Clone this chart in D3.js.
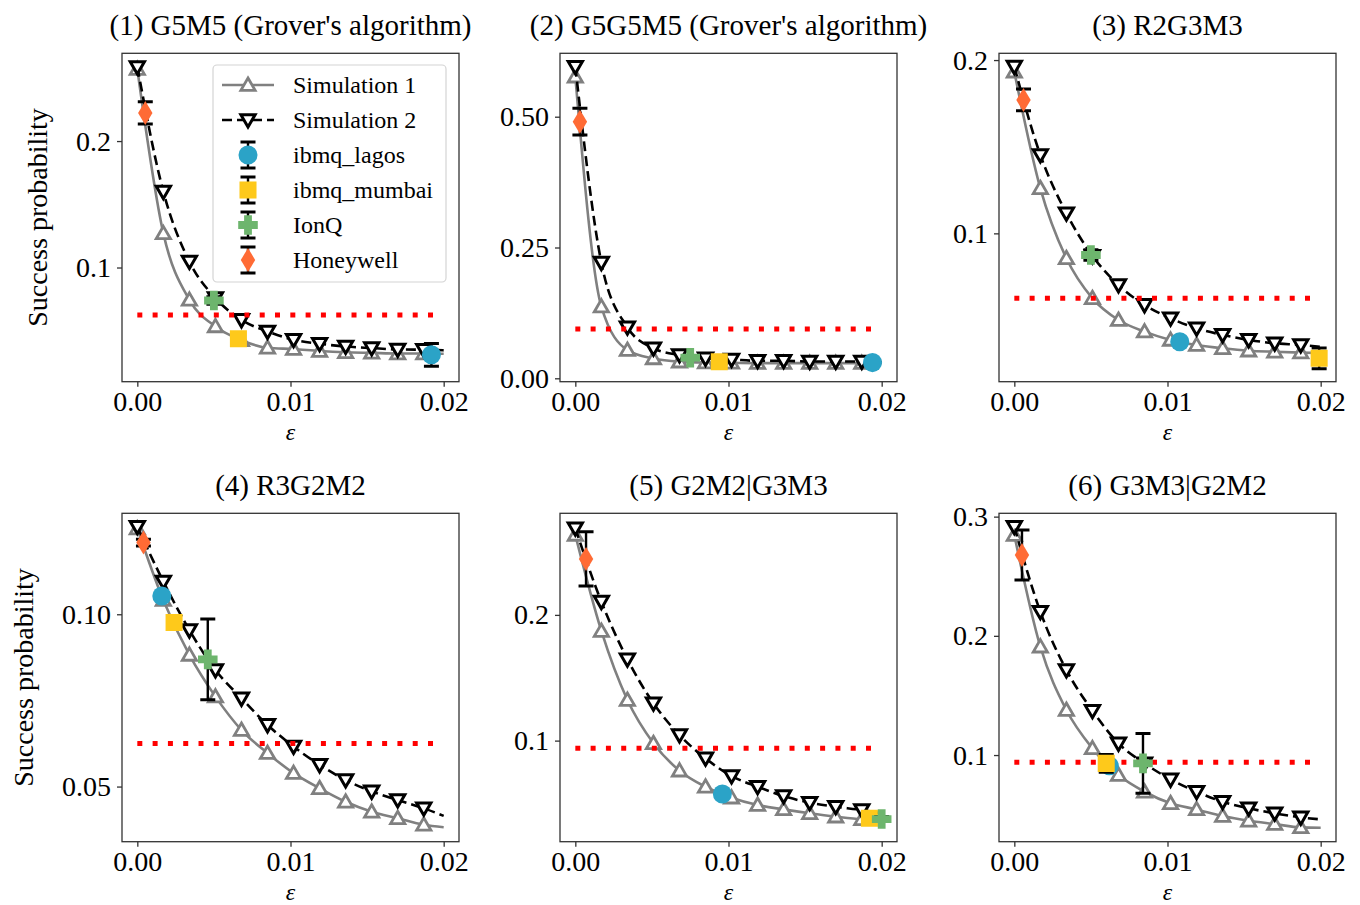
<!DOCTYPE html>
<html><head><meta charset="utf-8">
<script src="https://cdn.jsdelivr.net/npm/d3@7"></script>
<style>
body{margin:0;background:#fff}
svg{display:block}
text{font-family:"Liberation Serif","Times New Roman",serif;fill:#000}
</style>
</head><body>
<svg id="chart" width="1360" height="905"></svg>
<script>
// ---------------- DATA ----------------
const titles = [
  "(1) G5M5 (Grover's algorithm)",
  "(2) G5G5M5 (Grover's algorithm)",
  "(3) R2G3M3",
  "(4) R3G2M2",
  "(5) G2M2|G3M3",
  "(6) G3M3|G2M2"
];
const xDomain = [-0.001, 0.021];
const xTicks = [0, 0.01, 0.02];
const simX = [0, 0.0017, 0.0034, 0.0051, 0.0068, 0.0085, 0.0102, 0.0119, 0.0136, 0.0153, 0.0170, 0.0187];
const lineEndX = 0.02;

const sim1 = [
  [0.257, 0.127, 0.0744, 0.0534, 0.0425, 0.0365, 0.0355, 0.0340, 0.0330, 0.0325, 0.0320, 0.0320],
  [0.5765, 0.137, 0.054, 0.038, 0.0318, 0.0300, 0.0295, 0.0290, 0.0290, 0.0290, 0.0290, 0.0290],
  [0.1933, 0.126, 0.0856, 0.0625, 0.0500, 0.0433, 0.0385, 0.0356, 0.0337, 0.0323, 0.0317, 0.0312],
  [0.1249, 0.1041, 0.0882, 0.0761, 0.0664, 0.0597, 0.0539, 0.0495, 0.0456, 0.0427, 0.0408, 0.0389],
  [0.2636, 0.1872, 0.1323, 0.0979, 0.0761, 0.0633, 0.0546, 0.0488, 0.0453, 0.0422, 0.0395, 0.0374],
  [0.2846, 0.1909, 0.1378, 0.1056, 0.0832, 0.0692, 0.0595, 0.0544, 0.0488, 0.0449, 0.0421, 0.0393]
];
const sim1End = [0.0318, 0.0288, 0.0310, 0.0382, 0.0370, 0.0390];

const sim2 = [
  [0.2586, 0.160, 0.1047, 0.0758, 0.0586, 0.0494, 0.0429, 0.0397, 0.0375, 0.0363, 0.0352, 0.0350],
  [0.5956, 0.221, 0.0975, 0.0573, 0.0445, 0.0380, 0.0360, 0.0335, 0.0335, 0.0320, 0.0320, 0.0320],
  [0.1962, 0.1452, 0.1116, 0.0870, 0.0702, 0.0587, 0.0510, 0.0452, 0.0414, 0.0385, 0.0366, 0.0356],
  [0.1254, 0.1095, 0.0954, 0.0838, 0.0756, 0.0679, 0.0616, 0.0563, 0.0519, 0.0486, 0.0461, 0.0437],
  [0.2689, 0.2105, 0.1647, 0.1297, 0.1044, 0.0859, 0.0718, 0.0633, 0.0559, 0.0506, 0.0474, 0.0448],
  [0.2915, 0.2202, 0.1713, 0.1372, 0.1098, 0.0930, 0.0796, 0.0692, 0.0608, 0.0553, 0.0511, 0.0477]
];
const sim2End = [0.0345, 0.0310, 0.0345, 0.0415, 0.0420, 0.0460];

const redLine = [0.0625, 0.094, 0.0625, 0.0625, 0.094, 0.094];
const redX = [0, 0.0195];

const devices = ["ibmq_lagos", "ibmq_mumbai", "IonQ", "Honeywell"];
const deviceColors = ["#2ba3c7", "#fec91b", "#6db56d", "#ff6b35"];
// per panel: [lagos, mumbai, IonQ, Honeywell]
const expX = [
  [0.0192, 0.0066, 0.0050, 0.00052],
  [0.0194, 0.0094, 0.0075, 0.0003],
  [0.0108, 0.0199, 0.0050, 0.0006],
  [0.0016, 0.0024, 0.0046, 0.0004],
  [0.0096, 0.0192, 0.0200, 0.0007],
  [0.0062, 0.0060, 0.0084, 0.0005]
];
const expY = [
  [0.0310, 0.0436, 0.0739, 0.2222],
  [0.0300, 0.0318, 0.0394, 0.4905],
  [0.0375, 0.0279, 0.0875, 0.1770],
  [0.1053, 0.0976, 0.0869, 0.1208],
  [0.0575, 0.0382, 0.0376, 0.2445],
  [0.0910, 0.0930, 0.0930, 0.2678]
];
const expErr = [
  [0.0090, 0.0040, 0.0030, 0.0088],
  [0.0030, 0.0030, 0.0030, 0.0255],
  [0.0020, 0.0060, 0.0030, 0.0063],
  [0.0010, 0.0010, 0.0117, 0.0010],
  [0.0020, 0.0020, 0.0020, 0.0216],
  [0.0020, 0.0075, 0.0250, 0.0210]
];

const yDomains = [
  [0.0097, 0.2694],
  [-0.0065, 0.6212],
  [0.0144, 0.2039],
  [0.0340, 0.1293],
  [0.0196, 0.2808],
  [0.0273, 0.3028]
];
const yTicks = [
  [0.1, 0.2],
  [0, 0.25, 0.5],
  [0.1, 0.2],
  [0.05, 0.10],
  [0.1, 0.2],
  [0.1, 0.2, 0.3]
];
const yFormats = [".1f", ".2f", ".1f", ".2f", ".1f", ".1f"];
const legendLabels = ["Simulation 1", "Simulation 2", "ibmq_lagos", "ibmq_mumbai", "IonQ", "Honeywell"];

// ---------------- LAYOUT ----------------
const colLeft = [122, 560, 999];
const rowTop = [53.3, 513.3];
const PW = 337, PH = 328.4;
const ylabelX = [47, 33];

const svg = d3.select("#chart");
const GRAY = "#808080";

const symTri = d3.symbol().type(d3.symbolTriangle).size(88)();
const symCircle = d3.symbol().type(d3.symbolCircle).size(285)();
const symSquare = d3.symbol().type(d3.symbolSquare).size(290)();
const pa = 9.8, pb = 3.9;
const symPlus = `M${-pb},${-pa}H${pb}V${-pb}H${pa}V${pb}H${pb}V${pa}H${-pb}V${pb}H${-pa}V${-pb}H${-pb}Z`;
const symDiamond = "M0,-12L7.2,0L0,12L-7.2,0Z";
const devSymbols = [symCircle, symSquare, symPlus, symDiamond];

function drawUp(g, x, y) {
  g.append("path").attr("d", symTri).attr("transform", `translate(${x},${y + 1.2})`)
    .attr("fill", "#fff").attr("stroke", GRAY).attr("stroke-width", 2.8);
}
function drawDown(g, x, y) {
  g.append("path").attr("d", symTri).attr("transform", `translate(${x},${y - 1.2}) rotate(180)`)
    .attr("fill", "#fff").attr("stroke", "#000").attr("stroke-width", 3);
}
function drawErr(g, x, y1, y2) {
  g.append("line").attr("x1", x).attr("x2", x).attr("y1", y1).attr("y2", y2)
    .attr("stroke", "#000").attr("stroke-width", 2.4);
  [y1, y2].forEach(yy => g.append("line").attr("x1", x - 7.5).attr("x2", x + 7.5)
    .attr("y1", yy).attr("y2", yy).attr("stroke", "#000").attr("stroke-width", 3));
}

for (let p = 0; p < 6; p++) {
  const row = Math.floor(p / 3), col = p % 3;
  const left = colLeft[col], top = rowTop[row];
  const g = svg.append("g").attr("transform", `translate(${left},${top})`);
  const x = d3.scaleLinear().domain(xDomain).range([0, PW]);
  const y = d3.scaleLinear().domain(yDomains[p]).range([PH, 0]);

  const clipId = "clip" + p;
  g.append("clipPath").attr("id", clipId).append("rect").attr("width", PW).attr("height", PH);
  const plot = g.append("g").attr("clip-path", `url(#${clipId})`);

  const line = d3.line().x(d => x(d[0])).y(d => y(d[1])).curve(d3.curveMonotoneX);
  const s1 = simX.map((v, i) => [v, sim1[p][i]]).concat([[lineEndX, sim1End[p]]]);
  const s2 = simX.map((v, i) => [v, sim2[p][i]]).concat([[lineEndX, sim2End[p]]]);

  plot.append("path").attr("d", line(s1)).attr("fill", "none").attr("stroke", GRAY).attr("stroke-width", 2.6);
  simX.forEach((v, i) => drawUp(plot, x(v), y(sim1[p][i])));

  plot.append("path").attr("d", line(s2)).attr("fill", "none").attr("stroke", "#000")
    .attr("stroke-width", 2.6).attr("stroke-dasharray", "10,5");
  simX.forEach((v, i) => drawDown(plot, x(v), y(sim2[p][i])));

  plot.append("line").attr("x1", x(redX[0])).attr("x2", x(redX[1]))
    .attr("y1", y(redLine[p])).attr("y2", y(redLine[p]))
    .attr("stroke", "#ff0000").attr("stroke-width", 5).attr("stroke-dasharray", "5,10.3");

  for (let d = 0; d < 4; d++) {
    const ex = x(expX[p][d]), ey = y(expY[p][d]);
    drawErr(plot, ex, y(expY[p][d] + expErr[p][d]), y(expY[p][d] - expErr[p][d]));
    plot.append("path").attr("d", devSymbols[d]).attr("transform", `translate(${ex},${ey})`)
      .attr("fill", deviceColors[d]);
  }

  // frame
  g.append("rect").attr("width", PW).attr("height", PH).attr("fill", "none")
    .attr("stroke", "#333").attr("stroke-width", 1.3);

  // axes
  const xa = g.append("g").attr("transform", `translate(0,${PH})`)
    .call(d3.axisBottom(x).tickValues(xTicks).tickFormat(d3.format(".2f")).tickSize(5).tickPadding(4));
  const ya = g.append("g")
    .call(d3.axisLeft(y).tickValues(yTicks[p]).tickFormat(d3.format(yFormats[p])).tickSize(5).tickPadding(6));
  [xa, ya].forEach(a => {
    a.select(".domain").remove();
    a.selectAll(".tick line").attr("stroke", "#333").attr("stroke-width", 1.3);
    a.selectAll(".tick text").attr("font-family", "Liberation Serif, Times New Roman, serif")
      .attr("font-size", 28).attr("fill", "#000");
  });

  // title
  g.append("text").attr("x", PW / 2).attr("y", -18).attr("text-anchor", "middle")
    .attr("font-size", 29).text(titles[p]);
  // x label
  g.append("text").attr("x", PW / 2).attr("y", PH + 58).attr("text-anchor", "middle")
    .attr("font-size", 24).attr("font-style", "italic").text("ε");
  // y label
  if (col === 0) {
    svg.append("text").attr("transform", `translate(${ylabelX[row]},${top + PH / 2}) rotate(-90)`)
      .attr("text-anchor", "middle").attr("font-size", 28).text("Success probability");
  }

  // legend
  if (p === 0) {
    const lg = svg.append("g");
    const lx = 213, ly = 65, lw = 233, lh = 217;
    lg.append("rect").attr("x", lx).attr("y", ly).attr("width", lw).attr("height", lh)
      .attr("rx", 4).attr("fill", "#fff").attr("fill-opacity", 0.85)
      .attr("stroke", "#d4d4d4").attr("stroke-width", 1.2);
    const rowY = i => 85 + i * 35;
    const hx0 = 222, hx1 = 274, hm = 248;
    lg.append("line").attr("x1", hx0).attr("x2", hx1).attr("y1", rowY(0)).attr("y2", rowY(0))
      .attr("stroke", GRAY).attr("stroke-width", 2.6);
    drawUp(lg, hm, rowY(0));
    lg.append("line").attr("x1", hx0).attr("x2", hx1).attr("y1", rowY(1)).attr("y2", rowY(1))
      .attr("stroke", "#000").attr("stroke-width", 2.6).attr("stroke-dasharray", "10,5");
    drawDown(lg, hm, rowY(1));
    for (let d = 0; d < 4; d++) {
      const yy = rowY(d + 2);
      drawErr(lg, hm, yy - 13, yy + 13);
      lg.append("path").attr("d", devSymbols[d]).attr("transform", `translate(${hm},${yy})`)
        .attr("fill", deviceColors[d]);
    }
    legendLabels.forEach((t, i) => lg.append("text").attr("x", 293).attr("y", rowY(i))
      .attr("dy", "0.35em").attr("font-size", 24).text(t));
  }
}
</script>
</body></html>
